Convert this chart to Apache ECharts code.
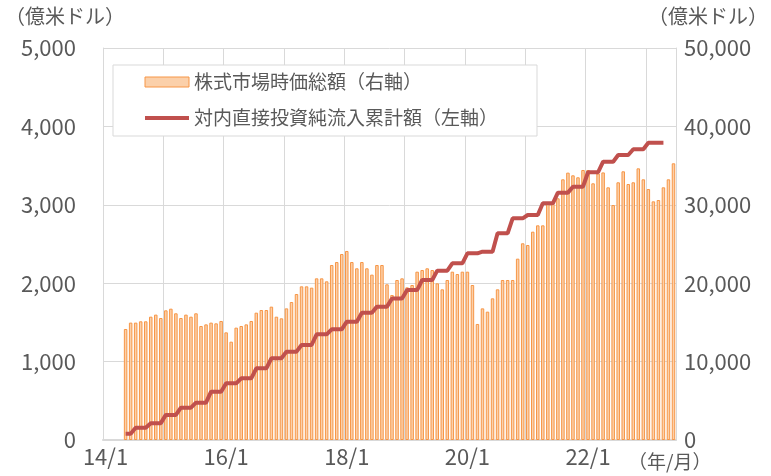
<!DOCTYPE html>
<html>
<head>
<meta charset="UTF-8">
<title>株式市場時価総額と対内直接投資純流入累計額</title>
<script src="https://cdn.jsdelivr.net/npm/echarts@6/dist/echarts.min.js"></script>
<style>
  html, body { margin: 0; padding: 0; background: #fff; }
  #chart { width: 771px; height: 476px; }
</style>
</head>
<body>
<div id="chart"></div>
<script>
// x axis: monthly, 2014/1 .. 2023/6
var months = [];
for (var y = 14; y <= 23; y++) {
  for (var m = 1; m <= 12; m++) {
    if (y === 23 && m > 6) break;
    months.push(y + '/' + m);
  }
}
var tickLabels = ['14/1', '16/1', '18/1', '20/1', '22/1'];
var firstMonth = '14/5'; // both series start here

// 株式市場時価総額 (億米ドル, right axis), monthly from 14/5 to 23/6
var marketCap = [
  14160, 14970, 14970, 15140, 15140, 15730, 15990, 15560,
  16540, 16750, 16160, 15560, 15990, 15730, 16160, 14540, 14750, 14970, 14880, 15180,
  13730, 12540, 14330, 14540, 14750, 15180, 16240, 16580, 16580, 17010, 15730, 15520,
  16790, 17600, 18620, 19600, 19600, 19430, 20620, 20620, 20240, 22320, 22700, 23720,
  24110, 22700, 21900, 22700, 21900, 21090, 22320, 22320, 19860, 18490, 20410, 20620,
  19470, 19770, 21470, 21680, 21900, 21680, 19980, 19220, 20410, 21470, 21170, 21470,
  21470, 19770, 14800, 16790, 16370, 18070, 19220, 20410, 20410, 20410, 23130, 25090,
  24870, 26570, 27380, 27380, 30100, 30100, 30830, 33250, 34100, 33760, 33510, 34440,
  34440, 32740, 34000, 34130, 32230, 29970, 32870, 34270, 32650, 32870, 34650, 33250,
  32010, 30440, 30610, 32230, 33250, 35290
];

// 対内直接投資純流入累計額 (億米ドル, left axis), monthly from 14/5 to 23/4
var fdiCum = [
  80, 80, 157, 157, 157, 215, 215, 215,
  320, 320, 320, 412, 412, 412, 476, 476, 476, 616, 616, 616,
  723, 723, 723, 787, 787, 787, 914, 914, 914, 1042, 1042, 1042,
  1127, 1127, 1127, 1212, 1212, 1212, 1348, 1348, 1348, 1412, 1412, 1412,
  1509, 1509, 1509, 1624, 1624, 1624, 1701, 1701, 1701, 1805, 1805, 1805,
  1913, 1913, 1913, 2041, 2041, 2041, 2160, 2160, 2160, 2253, 2253, 2253,
  2381, 2381, 2381, 2402, 2402, 2402, 2636, 2636, 2636, 2827, 2827, 2827,
  2870, 2870, 2870, 3019, 3019, 3019, 3155, 3155, 3155, 3231, 3231, 3231,
  3415, 3415, 3415, 3550, 3550, 3550, 3635, 3635, 3635, 3708, 3708, 3708,
  3792, 3792, 3792, 3792
];

function onAxis(values) {
  var start = months.indexOf(firstMonth);
  var out = [];
  for (var i = 0; i < months.length; i++) {
    var k = i - start;
    out.push(k >= 0 && k < values.length ? values[k] : null);
  }
  return out;
}

var font = '"Noto Sans CJK JP", "Noto Sans", sans-serif';
var grey = '#595959';
var gridColor = '#d9d9d9';

var chart = echarts.init(document.getElementById('chart'));
chart.setOption({
  animation: false,
  textStyle: { fontFamily: font },
  grid: { left: 103, right: 95, top: 48, bottom: 36 },
  legend: {
    orient: 'vertical',
    left: 113,
    top: 65,
    padding: [7, 39, 8, 30],
    itemGap: 16,
    itemWidth: 44,
    itemHeight: 10,
    backgroundColor: '#fff',
    borderColor: gridColor,
    borderWidth: 1,
    itemStyle: { borderWidth: 1 },
    lineStyle: { width: 4 },
    textStyle: { fontFamily: font, fontSize: 19, color: grey, lineHeight: 20 },
    data: [
      { name: '株式市場時価総額（右軸）', icon: 'rect' },
      // hide the marker circle, keep only the line
      { name: '対内直接投資純流入累計額（左軸）', itemStyle: { color: 'rgba(0,0,0,0)', borderWidth: 0 } }
    ]
  },
  xAxis: {
    type: 'category',
    data: months,
    boundaryGap: true,
    axisLine: { lineStyle: { color: gridColor, width: 2 } },
    axisTick: { show: false },
    axisLabel: {
      interval: function (i, v) { return tickLabels.indexOf(v) >= 0; },
      color: grey, fontSize: 22, fontFamily: font, margin: 6
    },
    splitLine: {
      show: true,
      interval: function (i) { return i % 12 === 0; },
      lineStyle: { color: gridColor, width: 1 }
    }
  },
  yAxis: [
    {
      type: 'value', min: 0, max: 5000, interval: 1000,
      axisLine: { show: true, lineStyle: { color: gridColor, width: 1 } },
      axisTick: { show: false },
      axisLabel: {
        color: grey, fontSize: 22, fontFamily: font, margin: 27,
        formatter: function (v) { return v.toLocaleString('en-US'); }
      },
      splitLine: { lineStyle: { color: gridColor, width: 1 } }
    },
    {
      type: 'value', min: 0, max: 50000, interval: 10000, position: 'right',
      axisLine: { show: true, lineStyle: { color: gridColor, width: 1 } },
      axisTick: { show: false },
      axisLabel: {
        color: grey, fontSize: 22, fontFamily: font, margin: 8,
        formatter: function (v) { return v.toLocaleString('en-US'); }
      },
      splitLine: { show: false }
    }
  ],
  series: [
    {
      name: '株式市場時価総額（右軸）',
      type: 'bar',
      yAxisIndex: 1,
      barWidth: 3.5,
      itemStyle: { color: '#FBD0AA', borderColor: '#F79646', borderWidth: 1 },
      data: onAxis(marketCap)
    },
    {
      name: '対内直接投資純流入累計額（左軸）',
      type: 'line',
      yAxisIndex: 0,
      symbol: 'none',
      lineStyle: { color: '#C0504D', width: 4 },
      itemStyle: { color: '#C0504D' },
      data: onAxis(fdiCum)
    }
  ],
  graphic: [
    { type: 'text', left: 5, top: 6, style: { text: '（億米ドル）', font: '20px ' + font, fill: grey } },
    { type: 'text', right: 3, top: 6, style: { text: '（億米ドル）', font: '20px ' + font, fill: grey } },
    { type: 'text', left: 628, top: 452, style: { text: '（年/月）', font: '19px ' + font, fill: grey } }
  ]
});
</script>
</body>
</html>
